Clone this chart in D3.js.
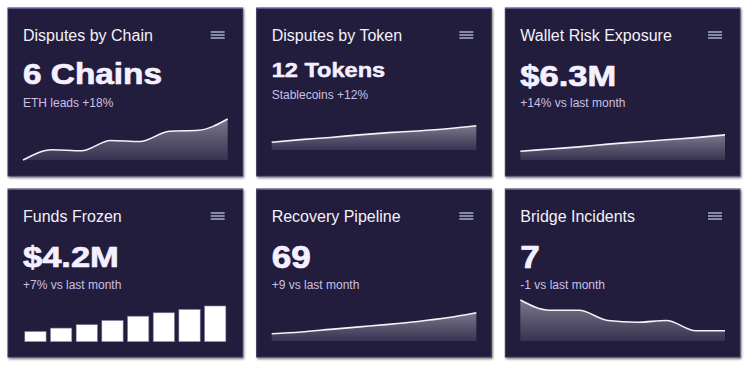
<!DOCTYPE html>
<html>
<head>
<meta charset="utf-8">
<script src="https://cdn.jsdelivr.net/npm/d3@7"></script>
<style>
  body { margin: 0; background: #fff; }
  svg { display: block; font-family: "Liberation Sans", Arial, Helvetica, sans-serif; }
</style>
</head>
<body>
<svg width="748" height="366"></svg>
<script>
const titles = ["Disputes by Chain", "Disputes by Token", "Wallet Risk Exposure", "Funds Frozen", "Recovery Pipeline", "Bridge Incidents"];
const values = ["6 Chains", "12 Tokens", "$6.3M", "$4.2M", "69", "7"];
const subtitles = ["ETH leads +18%", "Stablecoins +12%", "+14% vs last month", "+7% vs last month", "+9 vs last month", "-1 vs last month"];

const chainSeries = [12, 22, 21, 31, 30, 40, 41, 52];
const tokenSeries = [39, 42, 44.5, 47.5, 50, 52, 54.5, 58];
const walletSeries = [4.8, 5.0, 5.2, 5.45, 5.65, 5.85, 6.05, 6.3];
const frozenSeries = [1.2, 1.6, 2.0, 2.5, 3.0, 3.4, 3.8, 4.2];
const recoverySeries = [40, 42.5, 46, 49.5, 53, 57, 62, 69];
const bridgeSeries = [16, 13, 13, 10, 9.5, 10, 7, 7];

const series = [chainSeries, tokenSeries, walletSeries, frozenSeries, recoverySeries, bridgeSeries];
const yDomains = [[12, 52], [30, 77.3], [4, 7.75], [0, 4.82], [30, 86.6], [4, 16]];
const chartTypes = ["area", "area", "area", "bar", "area", "area"];

// layout (per card)
const valueSize = [29, 20.5, 30, 30, 30.5, 30.5];
const valueY = [75.5, 69.3, 78, 78.3, 79, 79];
const subY = [99, 90.7, 99, 100, 100, 100];
const plotBottom = [152, 142, 152, 152.7, 152, 152];

const svg = d3.select("svg");
const pad = 8, gapX = 14, gapY = 13;
const cardW = (748 - pad * 2 - gapX * 2) / 3;
const cardH = 168;

const defs = svg.append("defs");
const shadow = defs.append("filter").attr("id", "shadow")
    .attr("x", "-5%").attr("y", "-5%").attr("width", "112%").attr("height", "115%");
shadow.append("feDropShadow")
    .attr("dx", 1).attr("dy", 1.5).attr("stdDeviation", 1)
    .attr("flood-color", "#000").attr("flood-opacity", 0.55);

const grad = defs.append("linearGradient").attr("id", "areaFill")
    .attr("x1", 0).attr("y1", 0).attr("x2", 0).attr("y2", 1);
grad.append("stop").attr("offset", "0%").attr("stop-color", "#fff").attr("stop-opacity", 0.4);
grad.append("stop").attr("offset", "100%").attr("stop-color", "#fff").attr("stop-opacity", 0.1);

titles.forEach((title, i) => {
    const col = i % 3, row = Math.floor(i / 3);
    const cx = pad + col * (cardW + gapX);
    const cy = pad + row * (cardH + gapY);
    const g = svg.append("g").attr("transform", `translate(${cx},${cy})`);

    g.append("rect")
        .attr("width", cardW).attr("height", cardH)
        .attr("fill", "#241d3c")
        .attr("stroke", "#3a3362")
        .attr("stroke-width", 1)
        .attr("filter", "url(#shadow)");
    g.append("line")
        .attr("x1", 0).attr("x2", cardW).attr("y1", 0.5).attr("y2", 0.5)
        .attr("stroke", "#5f5797").attr("stroke-width", 1);

    g.append("text")
        .attr("x", 15).attr("y", 33)
        .attr("fill", "#f3f1fb")
        .style("font-size", "16px")
        .text(title);

    // hamburger menu
    [0, 3, 6].forEach(dy => {
        g.append("line")
            .attr("x1", cardW - 32).attr("x2", cardW - 18)
            .attr("y1", 24 + dy).attr("y2", 24 + dy)
            .attr("stroke", "#a7accb").attr("stroke-width", 1.5);
    });

    g.append("text")
        .attr("transform", `translate(15,${valueY[i]}) scale(1.15,1)`)
        .attr("fill", "#f4f0ff")
        .attr("stroke", "#f4f0ff")
        .attr("stroke-width", valueSize[i] * 0.024)
        .attr("stroke-linejoin", "round")
        .style("font-size", valueSize[i] + "px")
        .style("font-weight", "bold")
        .text(values[i]);

    g.append("text")
        .attr("x", 15).attr("y", subY[i])
        .attr("fill", "#c9c0e6")
        .style("font-size", "12px")
        .text(subtitles[i]);

    const data = series[i];
    const bottom = plotBottom[i];
    const y = d3.scaleLinear().domain(yDomains[i]).range([bottom, bottom - 41]);

    if (chartTypes[i] === "bar") {
        const x = d3.scaleBand().domain(d3.range(data.length))
            .range([15, cardW - 15]).paddingInner(0.17).paddingOuter(0.07);
        g.selectAll(".bar")
            .data(data)
            .enter()
            .append("rect")
            .attr("class", "bar")
            .attr("x", (d, j) => x(j))
            .attr("y", d => y(d))
            .attr("width", x.bandwidth())
            .attr("height", d => bottom - y(d))
            .attr("fill", "#fff")
            .attr("stroke", "#7d7899")
            .attr("stroke-width", 0.6);
    } else {
        const x = d3.scaleLinear().domain([0, data.length - 1]).range([15, cardW - 15]);
        const area = d3.area()
            .x((d, j) => x(j))
            .y0(bottom)
            .y1(d => y(d))
            .curve(d3.curveMonotoneX);
        const line = d3.line()
            .x((d, j) => x(j))
            .y(d => y(d))
            .curve(d3.curveMonotoneX);
        g.append("path").datum(data)
            .attr("d", area)
            .attr("fill", "url(#areaFill)");
        g.append("path").datum(data)
            .attr("d", line)
            .attr("fill", "none")
            .attr("stroke", "#f4f2fa")
            .attr("stroke-width", 1.6);
    }
});
</script>
</body>
</html>
